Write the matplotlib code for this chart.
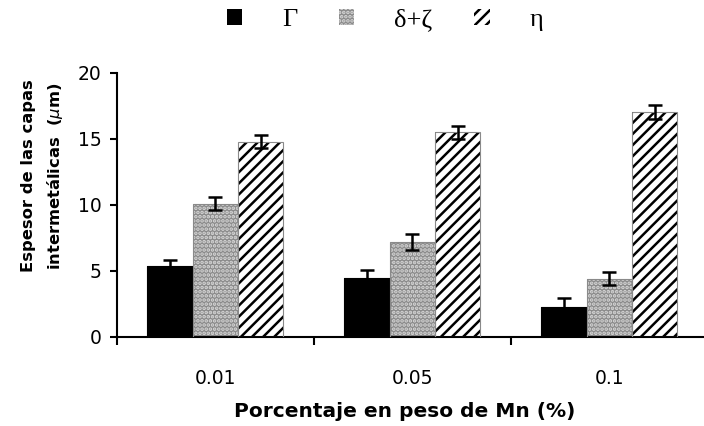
import matplotlib
matplotlib.use("Agg")
import matplotlib.pyplot as plt
from matplotlib.patches import Patch
import numpy as np

# Data
mn_percent = ["0.01", "0.05", "0.1"]
layer_names = ["Γ", "δ+ζ", "η"]
gamma_thickness = [5.4, 4.45, 2.25]
gamma_err = [0.4, 0.6, 0.7]
delta_zeta_thickness = [10.1, 7.2, 4.4]
delta_zeta_err = [0.5, 0.6, 0.5]
eta_thickness = [14.8, 15.5, 17.05]
eta_err = [0.5, 0.5, 0.55]

# (facecolor, hatch, hatch colour) for each layer
LAYER_STYLES = [
    ("black", None, "black"),
    ("#8a8a8a", "....", "#d8d8d8"),
    ("white", "///", "black"),
]

plt.rcParams["font.family"] = ["DejaVu Sans"]
plt.rcParams["hatch.linewidth"] = 1.8

fig = plt.figure(figsize=(7.04, 4.26), dpi=100)
ax = fig.add_axes([0.166, 0.209, 0.834, 0.62])

indices = np.arange(len(mn_percent))
bar_width = 0.23
values = [gamma_thickness, delta_zeta_thickness, eta_thickness]
errors = [gamma_err, delta_zeta_err, eta_err]

for i, (vals, errs, style) in enumerate(zip(values, errors, LAYER_STYLES)):
    face, hatch, hcol = style
    pos = indices + (i - 1) * bar_width
    # filled + hatched bar
    ax.bar(pos, vals, width=bar_width, color=face, hatch=hatch,
           edgecolor=hcol, linewidth=0, zorder=2)
    # thin outline
    ax.bar(pos, vals, width=bar_width, fill=False,
           edgecolor="#8a8a8a" if face != "black" else "black",
           linewidth=0.8, zorder=3)
    ax.errorbar(pos, vals, yerr=errs, fmt="none", ecolor="black",
                elinewidth=1.8, capsize=5, capthick=1.8, zorder=4)

ax.set_xlim(-0.5, 2.48)
ax.set_ylim(0, 20)
ax.set_yticks([0, 5, 10, 15, 20])
ax.tick_params(axis="y", direction="out", length=5, width=1.5, labelsize=13.5, pad=6)

# category ticks sit between groups, labels at group centres
ax.set_xticks([-0.5, 0.5, 1.5])
ax.set_xticklabels([])
ax.tick_params(axis="x", which="major", direction="out", length=6, width=1.5)
ax.set_xticks(indices, minor=True)
ax.set_xticklabels(mn_percent, minor=True)
ax.tick_params(axis="x", which="minor", length=0, labelsize=13.5, pad=23)

for side in ["top", "right"]:
    ax.spines[side].set_visible(False)
for side in ["left", "bottom"]:
    ax.spines[side].set_linewidth(1.5)

ax.set_xlabel("Porcentaje en peso de Mn (%)", fontsize=14.5, fontweight="bold")
ax.xaxis.set_label_coords(0.49, -0.245)
ax.set_ylabel("Espesor de las capas\nintermetálicas  ($\\mu$m)", fontsize=11.8,
              fontweight="bold", linespacing=1.6)
ax.yaxis.set_label_coords(-0.088, 0.61)

# Legend across the top
legend_handles = [
    Patch(facecolor=face, hatch=hatch, edgecolor=hcol, linewidth=0)
    for face, hatch, hcol in LAYER_STYLES
]
fig.legend(legend_handles, layer_names, loc="center", bbox_to_anchor=(0.547, 0.953),
           ncol=3, frameon=False, handlelength=0.57, handleheight=0.57,
           handletextpad=1.5, columnspacing=1.6,
           prop={"family": "Liberation Serif", "size": 19})

plt.savefig("out.png", dpi=100)
